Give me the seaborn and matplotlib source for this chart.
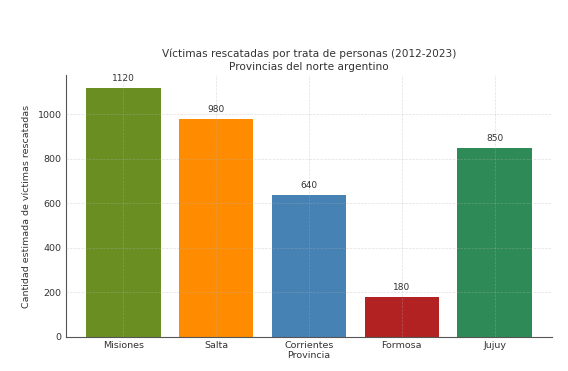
"""
Víctimas rescatadas por trata de personas, provincias del norte argentino.
"""
import matplotlib
matplotlib.use('Agg')
import matplotlib.pyplot as plt
import pandas as pd
import seaborn as sns

# Data
PROVINCIAS = ['Misiones', 'Salta', 'Corrientes', 'Formosa', 'Jujuy']
VICTIMAS = [1120, 980, 640, 180, 850]
COLORES = ['olivedrab', 'darkorange', 'steelblue', 'firebrick', 'seagreen']

DF = pd.DataFrame({'Provincia': PROVINCIAS, 'Victimas': VICTIMAS})

sns.set_style('white')
plt.rcParams['font.family'] = ['DejaVu Sans']

FIG, AX = plt.subplots(figsize=(5.68, 3.71), dpi=100)
FIG.subplots_adjust(left=0.116, right=0.972, bottom=0.092, top=0.797)

sns.barplot(data=DF, x='Provincia', y='Victimas', hue='Provincia',
            palette=COLORES, legend=False, saturation=1, width=0.8,
            linewidth=0, ax=AX)

# Value labels above bars
for i, v in enumerate(VICTIMAS):
    AX.text(i, v + 20, str(v), ha='center', va='bottom', fontsize=6.5, color='#333333')

AX.set_ylim(0, 1176)
AX.set_xlim(-0.62, 4.62)
AX.grid(True, linestyle='--', linewidth=0.5, color='#b0b0b0', alpha=0.4)
AX.set_axisbelow(False)

for s in ['top', 'right']:
    AX.spines[s].set_visible(False)
for s in ['left', 'bottom']:
    AX.spines[s].set_color('#555555')
    AX.spines[s].set_linewidth(0.8)

AX.tick_params(axis='both', length=0, labelsize=6.8, colors='#333333', pad=3)
AX.set_xlabel('Provincia', fontsize=6.8, color='#333333', labelpad=1)
AX.set_ylabel('Cantidad estimada de víctimas rescatadas', fontsize=6.8, color='#333333', labelpad=5)
AX.set_title('Víctimas rescatadas por trata de personas (2012-2023)\nProvincias del norte argentino',
             fontsize=7.6, color='#333333', pad=4, linespacing=1.3)

FIG.savefig('out.png', dpi=100)
